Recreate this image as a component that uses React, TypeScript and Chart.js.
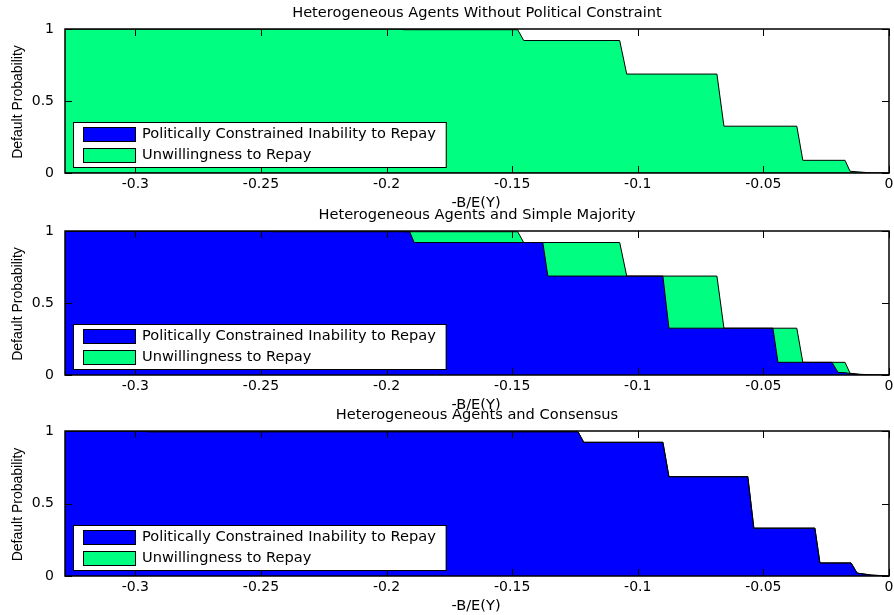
import React, { useEffect, useRef } from "react";
import { Chart, registerables } from "chart.js";
Chart.register(...registerables);

// ---------- data ----------
const X_MIN = -0.328;
const X_MAX = 0;
const xTicks = [-0.3, -0.25, -0.2, -0.15, -0.1, -0.05, 0];
const yTicks = [0, 0.5, 1];

const seriesNames = ["Politically Constrained Inability to Repay", "Unwillingness to Repay"];
const xLabel = "-B/E(Y)";
const yLabel = "Default Probability";

const title1 = "Heterogeneous Agents Without Political Constraint";
const p1X = [-0.328, -0.1948, -0.193, -0.1478, -0.1454, -0.1072, -0.1044, -0.0685, -0.0657, -0.0367, -0.0343, -0.0175, -0.0155, -0.0088, -0.0068, 0];
const p1Inability = [0, 0, 0, 0, 0, 0, 0, 0, 0, 0, 0, 0, 0, 0, 0, 0];
const p1Unwilling = [1, 1, 0.995, 0.995, 0.92, 0.92, 0.687, 0.687, 0.325, 0.325, 0.088, 0.088, 0.012, 0.003, 0, 0];

const title2 = "Heterogeneous Agents and Simple Majority";
const p2X = [-0.328, -0.2466, -0.245, -0.1948, -0.193, -0.1908, -0.189, -0.1478, -0.1454, -0.1378, -0.1358, -0.1072, -0.1044, -0.09, -0.0876, -0.0685, -0.0657, -0.0462, -0.0442, -0.0367, -0.0343, -0.0227, -0.0203, -0.0175, -0.0155, -0.0116, -0.0088, -0.0068, 0];
const p2Inability = [1, 1, 0.995, 0.995, 0.995, 0.995, 0.92, 0.92, 0.92, 0.92, 0.687, 0.687, 0.687, 0.687, 0.325, 0.325, 0.325, 0.325, 0.088, 0.088, 0.088, 0.088, 0.018, 0.016, 0.01, 0.003, 0.002, 0.001, 0];
const p2Unwilling = [0, 0, 0.005, 0.005, 0, 0, 0.075, 0.075, 0, 0, 0.233, 0.233, 0, 0, 0.362, 0.362, 0, 0, 0.237, 0.237, 0, 0, 0.07, 0.072, 0.002, 0.002, 0.001, 0, 0];

const title3 = "Heterogeneous Agents and Consensus";
const p3X = [-0.328, -0.2963, -0.2951, -0.1238, -0.1215, -0.09, -0.0876, -0.0562, -0.0538, -0.0295, -0.0275, -0.0151, -0.0127, -0.0068, 0];
const p3Inability = [1, 1, 0.995, 0.995, 0.922, 0.922, 0.685, 0.685, 0.33, 0.33, 0.09, 0.09, 0.02, 0.006, 0];
const p3Unwilling = [0, 0, 0, 0, 0, 0, 0, 0, 0, 0, 0, 0, 0, 0, 0];

// ---------- style ----------
const BLUE = "rgb(0,0,255)";
const GREEN = "rgb(0,255,128)";
const FONT = '"DejaVu Sans", sans-serif';
const YFONT = '"Liberation Sans", Arial, sans-serif';
const TEXT_SIZE = 14.6;

type PanelProps = {
  top: number;
  height: number;
  axisH: number;
  title: string;
  xs: number[];
  inability: number[];
  unwilling: number[];
};

function Panel({ top, height, axisH, title, xs, inability, unwilling }: PanelProps) {
  const ref = useRef<HTMLCanvasElement>(null);

  useEffect(() => {
    const canvas = ref.current!;
    const decor = {
      id: "matlabDecor",
      beforeDatasetsDraw(chart: any) {
        const { ctx, chartArea: a, scales } = chart;
        ctx.save();
        ctx.strokeStyle = "#000";
        ctx.lineWidth = 1;
        const tl = 7;
        ctx.beginPath();
        for (const t of scales.x.ticks) {
          const px = Math.round(scales.x.getPixelForValue(t.value)) + 0.5;
          ctx.moveTo(px, a.top);
          ctx.lineTo(px, a.top + tl);
          ctx.moveTo(px, a.bottom);
          ctx.lineTo(px, a.bottom - tl);
        }
        for (const t of scales.y.ticks) {
          const py = Math.round(scales.y.getPixelForValue(t.value)) + 0.5;
          ctx.moveTo(a.left, py);
          ctx.lineTo(a.left + tl, py);
          ctx.moveTo(a.right, py);
          ctx.lineTo(a.right - tl, py);
        }
        ctx.stroke();
        ctx.restore();
      },
      afterDatasetsDraw(chart: any) {
        const { ctx, chartArea: a } = chart;
        ctx.save();
        ctx.strokeStyle = "#000";
        ctx.lineWidth = 1.5;
        ctx.strokeRect(a.left, a.top, a.right - a.left, a.bottom - a.top);
        ctx.restore();
      },
      afterDraw(chart: any) {
        const { ctx, chartArea: a } = chart;
        ctx.save();
        ctx.fillStyle = "#000";
        ctx.font = `${TEXT_SIZE}px ${FONT}`;
        ctx.textAlign = "center";
        ctx.textBaseline = "middle";
        const cx = (a.left + a.right) / 2;
        ctx.fillText(title, cx, a.top - 16);
        ctx.fillText(xLabel, cx - 1, a.bottom + 30);
        // y label
        ctx.save();
        ctx.translate(18, (a.top + a.bottom) / 2 + 1);
        ctx.rotate(-Math.PI / 2);
        ctx.font = `14px ${YFONT}`;
        ctx.fillText(yLabel, 0, 0);
        ctx.restore();
        // legend
        ctx.font = `${TEXT_SIZE}px ${FONT}`;
        const w = Math.max(...seriesNames.map((s) => ctx.measureText(s).width));
        const boxL = a.left + 8;
        const boxB = a.bottom - 6;
        const boxT = boxB - 45;
        const patchL = boxL + 10;
        const patchR = boxL + 62;
        const textL = patchR + 7;
        const boxR = textL + w + 10;
        ctx.fillStyle = "#fff";
        ctx.fillRect(boxL, boxT, boxR - boxL, boxB - boxT);
        ctx.strokeStyle = "#000";
        ctx.lineWidth = 1;
        ctx.strokeRect(boxL + 0.5, boxT + 0.5, boxR - boxL, boxB - boxT);
        const colors = [BLUE, GREEN];
        const patchTops = [boxT + 5, boxT + 26];
        seriesNames.forEach((name, i) => {
          ctx.fillStyle = colors[i];
          ctx.fillRect(patchL, patchTops[i], patchR - patchL, 14);
          ctx.strokeStyle = "#000";
          ctx.strokeRect(patchL + 0.5, patchTops[i] + 0.5, patchR - patchL, 14);
          ctx.fillStyle = "#000";
          ctx.textAlign = "left";
          ctx.textBaseline = "middle";
          ctx.fillText(name, textL, patchTops[i] + 7.5);
        });
        ctx.restore();
      },
    };

    const chart = new Chart(canvas, {
      type: "line",
      data: {
        datasets: [
          {
            label: seriesNames[0],
            data: xs.map((x, i) => ({ x, y: inability[i] })),
            backgroundColor: BLUE,
            borderColor: "#000",
            borderWidth: 1,
            fill: "origin",
            pointRadius: 0,
            tension: 0,
          },
          {
            label: seriesNames[1],
            data: xs.map((x, i) => ({ x, y: unwilling[i] })),
            backgroundColor: GREEN,
            borderColor: "#000",
            borderWidth: 1,
            fill: "-1",
            pointRadius: 0,
            tension: 0,
          },
        ],
      },
      options: {
        animation: false,
        responsive: false,
        events: [],
        layout: { padding: { top: 29, right: 5, left: 0, bottom: 0 } },
        plugins: {
          legend: { display: false },
          tooltip: { enabled: false },
          title: { display: false },
          filler: { drawTime: "beforeDatasetsDraw" },
        } as any,
        scales: {
          x: {
            type: "linear",
            min: X_MIN,
            max: X_MAX,
            grid: { display: false, drawTicks: false },
            border: { display: false },
            afterBuildTicks: (s: any) => {
              s.ticks = xTicks.map((v) => ({ value: v }));
            },
            afterFit: (s: any) => {
              s.height = axisH;
              s.paddingLeft = 0;
              s.paddingRight = 0;
            },
            ticks: {
              color: "#000",
              font: { family: FONT, size: 14 },
              padding: 3,
              maxRotation: 0,
              autoSkip: false,
              callback: (v: any) => String(v),
            },
          },
          y: {
            type: "linear",
            min: 0,
            max: 1,
            stacked: true,
            grid: { display: false, drawTicks: false },
            border: { display: false },
            afterBuildTicks: (s: any) => {
              s.ticks = yTicks.map((v) => ({ value: v }));
            },
            afterFit: (s: any) => {
              s.width = 65;
              s.paddingTop = 0;
              s.paddingBottom = 0;
            },
            ticks: {
              color: "#000",
              font: { family: FONT, size: 14 },
              padding: 11,
              callback: (v: any) => String(v),
            },
          },
        },
      } as any,
      plugins: [decor],
    });
    return () => chart.destroy();
  }, []);

  return (
    <canvas
      ref={ref}
      width={894}
      height={height}
      style={{ position: "absolute", left: 0, top, width: 894, height }}
    />
  );
}

export default function App() {
  return (
    <div
      style={{
        position: "fixed",
        left: 0,
        top: 0,
        width: 894,
        height: 615,
        overflow: "hidden",
        background: "#fff",
      }}
    >
      <Panel top={0} height={215} axisH={42} title={title1} xs={p1X} inability={p1Inability} unwilling={p1Unwilling} />
      <Panel top={202} height={215} axisH={42} title={title2} xs={p2X} inability={p2Inability} unwilling={p2Unwilling} />
      <Panel top={402} height={215} axisH={41} title={title3} xs={p3X} inability={p3Inability} unwilling={p3Unwilling} />
    </div>
  );
}
